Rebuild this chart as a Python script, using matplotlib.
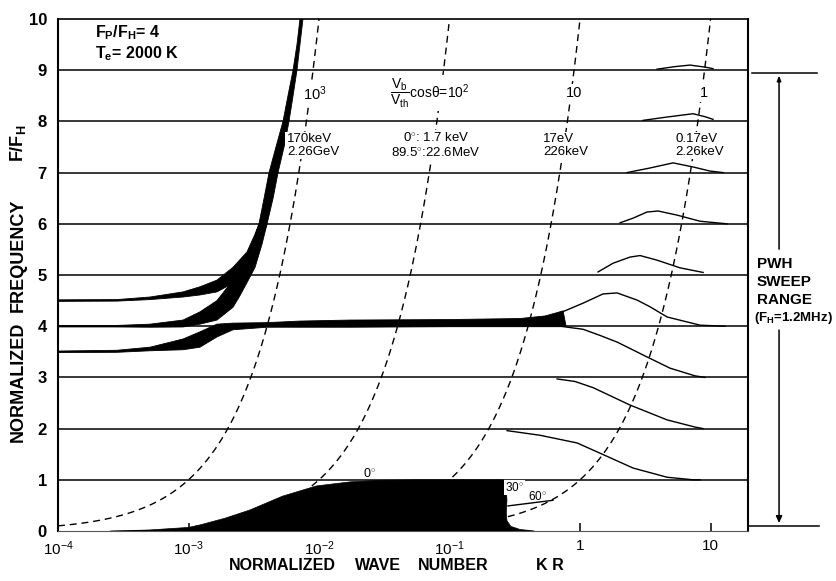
import numpy as np
import matplotlib
matplotlib.use('Agg')
import matplotlib.pyplot as plt

plt.rcParams['font.family'] = ['Liberation Sans', 'DejaVu Sans']
plt.rcParams['mathtext.fontset'] = 'custom'
plt.rcParams['mathtext.rm'] = 'Liberation Sans'
plt.rcParams['mathtext.it'] = 'Liberation Sans:italic'
plt.rcParams['mathtext.bf'] = 'Liberation Sans:bold'

# ---------------- data ----------------
harmonics = [1, 2, 3, 4, 5, 6, 7, 8, 9]
beam_ratios = [1000, 100, 10, 1]            # Vb/Vth cos(theta)
beam_kstart = [1e-4, 0.0088, 0.09, 0.28]     # where each resonance line appears
beam_labels = ['10$^3$', None, '10', '1']
beam_label_logk = [-2.123, -1.456, -0.107, 0.92]

energy_labels = ['170keV\n2.26GeV', '0$^{\\circ}$: 1.7 keV\n89.5$^{\\circ}$:22.6MeV',
                 '17eV\n226keV', '0.17eV\n2.26keV']
energy_logk = [-2.245, -1.103, -0.284, 0.728]
energy_ha = ['left', 'center', 'left', 'left']

# black bands: outlines (log10 KR, f)
bandA_logk = [-4.0, -3.548, -3.295, -3.042, -2.912, -2.782, -2.659, -2.552, -2.490, -2.460,
              -2.421, -2.383, -2.330, -2.276, -2.238, -2.199, -2.169, -2.146,
              -2.123, -2.146, -2.169, -2.199, -2.230, -2.268, -2.314, -2.352, -2.398,
              -2.437, -2.490, -2.567, -2.659, -2.782, -2.912, -3.042, -3.295, -3.548, -4.0]
bandA_f = [4.515, 4.52, 4.57, 4.67, 4.77, 4.90, 5.15, 5.45, 5.8, 6.0,
           6.5, 7.0, 7.5, 8.0, 8.5, 9.0, 9.5, 10.0,
           10.0, 9.5, 9.0, 8.5, 8.0, 7.5, 7.0, 6.5, 6.0,
           5.7, 5.35, 5.08, 4.84, 4.67, 4.61, 4.57, 4.52, 4.49, 4.485]

bandB_logk = [-4.0, -3.548, -3.295, -3.042, -2.912, -2.782, -2.659, -2.567, -2.513, -2.460,
              -2.398, -2.437, -2.490, -2.529, -2.605, -2.659, -2.782, -2.912, -3.042,
              -3.295, -3.548, -4.0]
bandB_f = [4.015, 4.015, 4.04, 4.12, 4.28, 4.50, 4.90, 5.30, 5.60, 6.0,
           6.0, 5.6, 5.15, 4.96, 4.6, 4.37, 4.12, 4.04, 3.985,
           3.98, 3.985, 3.985]

bandC_logk = [-4.0, -3.548, -3.295, -3.042, -2.912, -2.835, -2.782, -2.659, -2.398, -2.146,
              -1.762, -0.996, -0.460, -0.268, -0.169, -0.130,
              -0.107, -0.153, -0.996, -1.762, -2.398, -2.659, -2.782, -2.912, -3.042,
              -3.295, -3.548, -4.0]
bandC_f = [3.515, 3.53, 3.59, 3.75, 3.89, 3.98, 4.04, 4.06, 4.07, 4.10,
           4.12, 4.13, 4.15, 4.20, 4.27, 4.30,
           4.0, 3.99, 3.99, 3.98, 3.98, 3.93, 3.79, 3.59, 3.54,
           3.52, 3.49, 3.485]

# low-frequency black region outline (log k, f)
region_logk = [-3.6, -3.3, -3.0, -2.91, -2.72, -2.53, -2.28, -2.02, -1.76, -1.53, -1.23,
               -0.59, -0.567, -0.56, -0.565, -0.56, -0.53, -0.46, -0.35]
region_f = [0.0, 0.02, 0.07, 0.12, 0.25, 0.41, 0.68, 0.88, 0.96, 0.99, 1.0,
            1.0, 0.97, 0.6, 0.35, 0.2, 0.09, 0.03, 0.0]

# thin curves (log k, f)
hump9_logk = [0.590, 0.728, 0.843, 0.958, 1.019]
hump9_f = [9.02, 9.07, 9.10, 9.06, 9.03]
hump8_logk = [0.483, 0.651, 0.866, 0.96, 1.019]
hump8_f = [8.02, 8.08, 8.15, 8.09, 8.04]
hump7_logk = [0.360, 0.536, 0.713, 0.866, 0.996, 1.096]
hump7_f = [7.0, 7.09, 7.19, 7.11, 7.03, 7.0]
hump6_logk = [0.307, 0.406, 0.513, 0.598, 0.743, 0.920, 1.126]
hump6_f = [6.02, 6.11, 6.23, 6.25, 6.17, 6.05, 6.0]
hump5_logk = [0.138, 0.253, 0.383, 0.460, 0.590, 0.766, 0.943]
hump5_f = [5.06, 5.23, 5.35, 5.38, 5.29, 5.14, 5.05]
hump4_logk = [-0.153, 0.023, 0.176, 0.284, 0.437, 0.536, 0.667, 0.920, 1.111]
hump4_f = [4.26, 4.45, 4.63, 4.65, 4.51, 4.38, 4.18, 4.02, 4.0]
fall43_logk = [-0.153, 0.023, 0.153, 0.284, 0.513, 0.690, 0.881, 0.958]
fall43_f = [4.0, 3.94, 3.82, 3.69, 3.40, 3.18, 3.03, 3.0]
fall32_logk = [-0.176, -0.038, 0.100, 0.383, 0.667, 0.881, 0.943]
fall32_f = [2.97, 2.92, 2.80, 2.46, 2.17, 2.03, 2.0]
fall21_logk = [-0.559, -0.307, -0.023, 0.153, 0.406, 0.667, 0.866, 0.920]
fall21_f = [1.96, 1.87, 1.72, 1.52, 1.23, 1.05, 1.0, 1.0]

angle60_logk = [-0.552, -0.207]
angle60_f = [0.49, 0.60]

xticks = [1e-4, 1e-3, 1e-2, 1e-1, 1, 10]
xticklabels = ['10$^{-4}$', '10$^{-3}$', '10$^{-2}$', '10$^{-1}$', '1', '10']
yticks = list(range(0, 11))

# ---------------- figure ----------------
W, H = 837, 581
fig = plt.figure(figsize=(W / 100, H / 100), dpi=100)
ax = fig.add_axes([58 / W, 1 - 531 / H, 690 / W, 512 / H])
ax.set_xscale('log')
ax.set_xlim(1e-4, 10 ** 1.287)
ax.set_ylim(0, 10)

p = lambda a: 10 ** np.asarray(a, dtype=float)

# horizontal harmonic lines
for h in harmonics:
    ax.plot([1e-4, 10 ** 1.287], [h, h], color='black', lw=1.1, zorder=2)

# resonance dashed lines f = V * kR
for V, k0 in zip(beam_ratios, beam_kstart):
    kk = np.logspace(np.log10(k0), np.log10(10.0 / V), 300)
    ax.plot(kk, V * kk, color='black', lw=1.0, ls=(0, (5, 3.5)), zorder=2)

# bands
for lg, ff in [(bandA_logk, bandA_f), (bandB_logk, bandB_f), (bandC_logk, bandC_f)]:
    ax.fill(p(lg), ff, color='black', lw=0.6, zorder=3)

# low-frequency region
ax.fill(p(region_logk), region_f, color='black', lw=0.5, zorder=3)

# thin curves
for lg, ff in [(hump9_logk, hump9_f), (hump8_logk, hump8_f), (hump7_logk, hump7_f),
               (hump6_logk, hump6_f), (hump5_logk, hump5_f), (hump4_logk, hump4_f),
               (fall43_logk, fall43_f), (fall32_logk, fall32_f), (fall21_logk, fall21_f),
               (angle60_logk, angle60_f)]:
    ax.plot(p(lg), ff, color='black', lw=1.0, zorder=4, solid_joinstyle='round')

# annotations on the plot
ax.text(0.054, 9.73, 'F$_{\\mathbf{P}}$/F$_{\\mathbf{H}}$= 4', transform=ax.get_yaxis_transform(),
        fontsize=11.5, fontweight='bold', va='center', ha='left')
ax.text(0.054, 9.33, 'T$_{\\mathbf{e}}$= 2000 K', transform=ax.get_yaxis_transform(),
        fontsize=11.5, fontweight='bold', va='center', ha='left')

wbox = dict(boxstyle='square,pad=0.12', fc='white', ec='none')
for lab, lg in zip(beam_labels, beam_label_logk):
    if lab is None:
        ax.text(p(lg), 8.55, r'$\dfrac{\mathrm{V_b}}{\mathrm{V_{th}}}$' + 'cos\u03b8=10$^2$',
                fontsize=10, ha='left', va='center', zorder=5, bbox=wbox)
    else:
        ax.text(p(lg), 8.55, lab, fontsize=10.5, ha='left', va='center', zorder=5, bbox=wbox)

for lab, lg, ha in zip(energy_labels, energy_logk, energy_ha):
    ax.text(p(lg), 7.53, lab, fontsize=9.5, ha=ha, va='center', linespacing=1.05,
            zorder=5, bbox=wbox)

ax.text(10 ** -1.61, 1.12, '0$^{\\circ}$', fontsize=9, ha='center', va='center', zorder=5)
ax.text(10 ** -0.5, 0.85, '30$^{\\circ}$', fontsize=8.5, ha='center', va='center', zorder=6,
        bbox=dict(boxstyle='square,pad=0.1', fc='white', ec='none'))
ax.text(10 ** -0.33, 0.67, '60$^{\\circ}$', fontsize=8.5, ha='center', va='center', zorder=5)

# axes styling
for s in ['left', 'right']:
    ax.spines[s].set_linewidth(1.5)
ax.spines['top'].set_linewidth(1.2)
ax.spines['bottom'].set_linewidth(0.8)
ax.spines['bottom'].set_color('#555555')

ax.set_xticks(xticks)
ax.set_xticklabels(xticklabels, fontsize=11)
ax.minorticks_off()
ax.tick_params(axis='x', direction='in', length=6, width=1.1, pad=6)
ax.set_yticks(yticks)
ax.set_yticklabels([str(v) for v in yticks], fontsize=12, fontweight='bold')
ax.tick_params(axis='y', length=0, pad=8)


def ftext(x, y, s, **kw):
    fig.text(x / W, 1 - y / H, s, **kw)


# axis titles
ftext(18, 382, 'NORMALIZED', rotation=90, fontsize=13, fontweight='bold', ha='center', va='center')
ftext(18, 255, 'FREQUENCY', rotation=90, fontsize=13, fontweight='bold', ha='center', va='center')
ftext(18, 143, 'F/F$_{\\mathbf{H}}$', rotation=90, fontsize=13, fontweight='bold', ha='center', va='center')
for word, xc in [('NORMALIZED', 282), ('WAVE', 378), ('NUMBER', 453), ('K R', 550)]:
    ftext(xc, 566, word, fontsize=11.5, fontweight='bold', ha='center', va='center')

# PWH sweep range bracket
tr = ax.get_yaxis_transform()
ax.plot([1.006, 1.1], [8.95, 8.95], transform=tr, color='black', lw=1.1, clip_on=False)
ax.plot([1.0, 1.103], [0.1, 0.1], transform=tr, color='black', lw=1.1, clip_on=False)
ax.annotate('', xy=(1.045, 8.95), xytext=(1.045, 5.45), xycoords=tr, textcoords=tr,
            arrowprops=dict(arrowstyle='-|>,head_length=0.3,head_width=0.12', color='black', lw=1.1))
ax.annotate('', xy=(1.045, 0.1), xytext=(1.045, 3.98), xycoords=tr, textcoords=tr,
            arrowprops=dict(arrowstyle='-|>,head_length=0.4,head_width=0.18', color='black', lw=1.1))
for s, y in [('PWH', 264), ('SWEEP', 282), ('RANGE', 300)]:
    ftext(757, y, s, fontsize=11, fontweight='bold', ha='left', va='center')
ftext(754, 318, '(F$_{\\mathbf{H}}$=1.2MHz)', fontsize=9.5, fontweight='bold', ha='left', va='center')

fig.savefig('out.png', dpi=100)
